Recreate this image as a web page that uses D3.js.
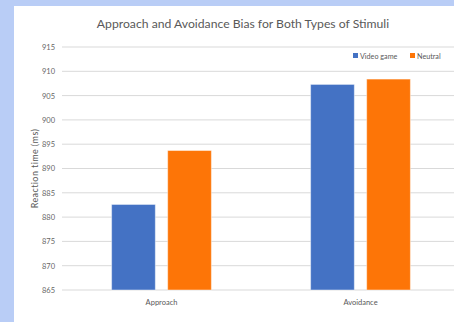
<!DOCTYPE html>
<html>
<head>
<meta charset="utf-8">
<script src="https://cdn.jsdelivr.net/npm/d3@7"></script>
<style>
  html, body { margin: 0; padding: 0; background: #b9cdf6; }
  svg { display: block; }
  text { font-family: Lato, "Open Sans", sans-serif; }
</style>
</head>
<body>
<svg id="chart" width="454" height="322"></svg>
<script>
// Mean reaction times (ms) by bias type and stimulus type
const categories = ["Approach", "Avoidance"];
const seriesNames = ["Video game", "Neutral"];
const videoGame = [882.6, 907.3];
const neutral = [893.7, 908.4];
const yTicks = [865, 870, 875, 880, 885, 890, 895, 900, 905, 910, 915];
const colors = ["#4472c4", "#fd7507"];

const seriesValues = [videoGame, neutral];
const rows = categories.map((c, i) => ({
  category: c,
  values: seriesNames.map((s, j) => ({ series: s, value: seriesValues[j][i], color: colors[j] }))
}));

const svg = d3.select("#chart");
const W = 454, H = 322;

// white chart panel
svg.append("rect")
  .attr("x", 14).attr("y", 6)
  .attr("width", W - 14).attr("height", H - 6)
  .attr("fill", "#ffffff");

const plot = { left: 62, right: 460, top: 47, bottom: 290 };

const x = d3.scaleBand().domain(categories).range([plot.left, plot.right]).paddingInner(0).paddingOuter(0);
const xs = d3.scaleBand().domain(seriesNames).range([0, x.bandwidth()]).paddingInner(0.22).paddingOuter(0.885);
const y = d3.scaleLinear().domain([865, 915]).range([plot.bottom, plot.top]);

// horizontal gridlines
svg.append("g")
  .selectAll("line")
  .data(yTicks)
  .join("line")
  .attr("x1", plot.left).attr("x2", W)
  .attr("y1", d => y(d)).attr("y2", d => y(d))
  .attr("stroke", "#d9d9d9").attr("stroke-width", 1);

// y tick labels
const yAxis = d3.axisLeft(y).tickValues(yTicks).tickSize(0).tickPadding(0);
const gy = svg.append("g").attr("transform", `translate(${plot.left - 7},0)`).call(yAxis);
gy.select(".domain").remove();
gy.selectAll("text")
  .attr("fill", "#666666")
  .style("font-size", "7.5px")
  .style("font-family", "Lato, 'Open Sans', sans-serif");

// bars
const groups = svg.append("g")
  .selectAll("g")
  .data(rows)
  .join("g")
  .attr("transform", d => `translate(${x(d.category)},0)`);

groups.selectAll("rect")
  .data(d => d.values)
  .join("rect")
  .attr("x", d => xs(d.series))
  .attr("width", xs.bandwidth())
  .attr("y", d => y(d.value))
  .attr("height", d => y(865) - y(d.value))
  .attr("fill", d => d.color)
  .attr("stroke", "rgba(255,255,255,0.45)")
  .attr("stroke-width", 1);

// category labels
const xAxis = d3.axisBottom(x).tickSize(0).tickPadding(0);
const gx = svg.append("g").attr("transform", `translate(0,${plot.bottom + 10})`).call(xAxis);
gx.select(".domain").remove();
gx.selectAll("text")
  .attr("fill", "#595959")
  .style("font-size", "7.5px")
  .style("font-family", "Lato, 'Open Sans', sans-serif");

// title
svg.append("text")
  .attr("x", 243).attr("y", 28)
  .attr("text-anchor", "middle")
  .attr("fill", "#595959")
  .style("font-size", "12.2px")
  .text("Approach and Avoidance Bias for Both Types of Stimuli");

// y axis title
svg.append("text")
  .attr("transform", `translate(38,${(plot.top + plot.bottom) / 2}) rotate(-90)`)
  .attr("text-anchor", "middle")
  .attr("fill", "#595959")
  .style("font-size", "9px")
  .style("letter-spacing", "0.4px")
  .text("Reaction time (ms)");

// legend
const legendX = [353, 410];
const legend = svg.append("g")
  .selectAll("g")
  .data(seriesNames)
  .join("g")
  .attr("transform", (d, i) => `translate(${legendX[i]},53)`);
legend.append("rect")
  .attr("width", 5).attr("height", 5)
  .attr("fill", (d, i) => colors[i]);
legend.append("text")
  .attr("x", 7).attr("y", 5.5)
  .attr("fill", "#595959")
  .style("font-size", "7.2px")
  .text(d => d);
</script>
</body>
</html>
